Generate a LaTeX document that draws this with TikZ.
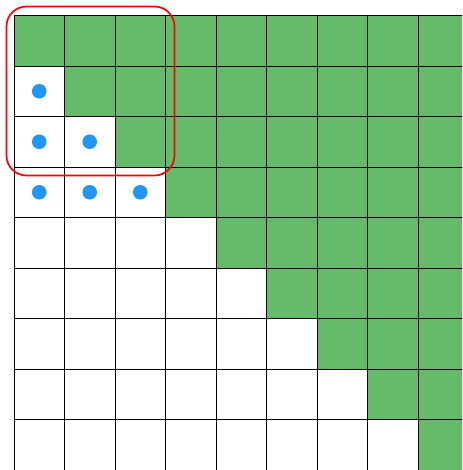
\documentclass[tikz,border=0pt]{standalone}
\definecolor{cellgreen}{RGB}{102,187,106}
\definecolor{dotblue}{RGB}{33,150,243}
\definecolor{hlred}{RGB}{255,0,0}
\begin{document}
\begin{tikzpicture}[x=1pt,y=-1pt,
  gridline/.style={draw=black,line width=0.9pt},
  dot/.style={fill=dotblue},
  hl/.style={draw=hlred,line width=1.7pt,rounded corners=20pt}]
\useasboundingbox (0,0) rectangle (462,470);
\begin{scope}
\clip (0,0) rectangle (462,470);
\foreach \i in {0,...,9}{
  \foreach \j in {\i,...,9}{
    \fill[cellgreen] ({14+50.5*\j},{15.5+50.5*\i}) rectangle ++(50.5,50.5);
  }
}
\foreach \k in {0,...,10}{
  \draw[gridline] ({14+50.5*\k},15.5) -- ({14+50.5*\k},480);
  \draw[gridline] (14,{15.5+50.5*\k}) -- (480,{15.5+50.5*\k});
}
\foreach \i in {1,2,3}{
  \pgfmathtruncatemacro{\m}{\i-1}
  \foreach \j in {0,...,\m}{
    \fill[dot] ({14+50.5*\j+25.25},{15.5+50.5*\i+25.25}) circle (7.3);
  }
}
\end{scope}
\draw[hl] (6.5,6.5) rectangle (174.5,175.5);
\end{tikzpicture}
\end{document}
